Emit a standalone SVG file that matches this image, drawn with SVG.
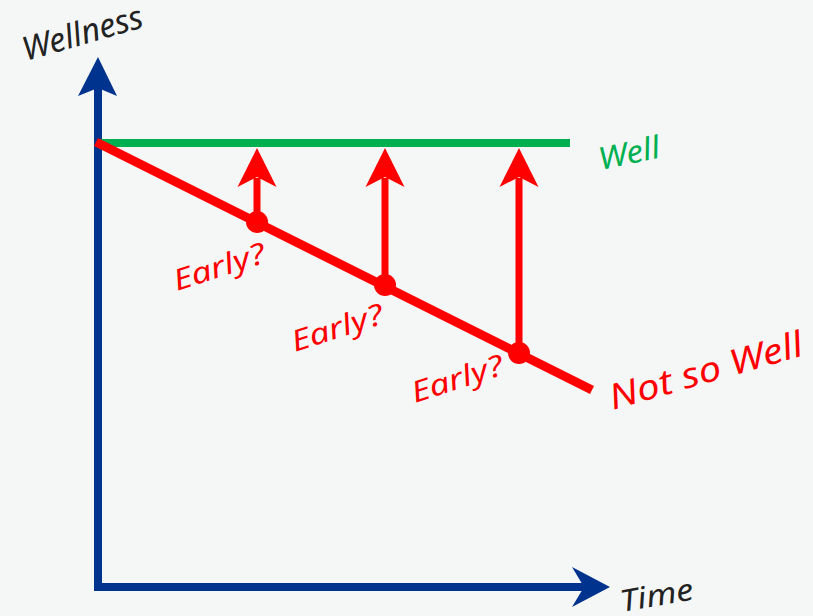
<svg xmlns="http://www.w3.org/2000/svg" width="813" height="616" viewBox="0 0 813 616">
<style>
.lbl{font-family:"Noto Sans","DejaVu Sans",sans-serif;font-style:italic}
.red{fill:#ff0000}
.blue{fill:#00338d}
</style>
<defs>
<g id="upArrow"><polygon points="0,0 19.5,39 0,29 -19.5,39" fill="#ff0000"/></g>
</defs>
<rect width="813" height="616" fill="#f5f7f7"/>
<g id="axes">
<rect class="blue" x="94" y="86" width="8" height="505"/>
<polygon class="blue" points="98,57 117,96 98,88 78,96"/>
<rect class="blue" x="94" y="583" width="492" height="8"/>
<polygon class="blue" points="610,587 572,607 584,587 572,567"/>
</g>
<g id="well-line"><line x1="98" y1="143" x2="570" y2="143" stroke="#00b050" stroke-width="8"/></g>
<g id="connectors">
<line x1="96" y1="142" x2="592" y2="390" stroke="#ff0000" stroke-width="9"/>
<line x1="257" y1="222" x2="257" y2="178" stroke="#ff0000" stroke-width="7"/>
<use href="#upArrow" x="257" y="148"/>
<line x1="385" y1="285" x2="385" y2="178" stroke="#ff0000" stroke-width="7"/>
<use href="#upArrow" x="385" y="148"/>
<line x1="519" y1="353" x2="519" y2="178" stroke="#ff0000" stroke-width="7"/>
<use href="#upArrow" x="519" y="148"/>
</g>
<g id="point1"><circle class="red" cx="257" cy="222" r="11"/></g>
<g id="point2"><circle class="red" cx="385" cy="285" r="11"/></g>
<g id="point3"><circle class="red" cx="519" cy="353" r="11"/></g>
<g id="labels">
<text class="lbl" x="26" y="61" font-size="33" fill="#222" transform="rotate(-16 26 61)" textLength="124" lengthAdjust="spacingAndGlyphs">Wellness</text>
<text class="lbl" x="601" y="170" font-size="31" fill="#00b050" transform="rotate(-12 601 170)" textLength="62" lengthAdjust="spacingAndGlyphs">Well</text>
<text class="lbl red" x="177" y="291" font-size="29" transform="rotate(-18 177 291)" textLength="95" lengthAdjust="spacingAndGlyphs">Early?</text>
<text class="lbl red" x="295" y="352" font-size="29" transform="rotate(-18 295 352)" textLength="95" lengthAdjust="spacingAndGlyphs">Early?</text>
<text class="lbl red" x="415" y="403" font-size="29" transform="rotate(-18 415 403)" textLength="95" lengthAdjust="spacingAndGlyphs">Early?</text>
<text class="lbl red" x="613" y="410" font-size="35" transform="rotate(-16 613 410)" textLength="200" lengthAdjust="spacingAndGlyphs">Not so Well</text>
<text class="lbl" x="622" y="612" font-size="30" fill="#222" transform="rotate(-10 622 612)" textLength="74" lengthAdjust="spacingAndGlyphs">Time</text>
</g>
</svg>
